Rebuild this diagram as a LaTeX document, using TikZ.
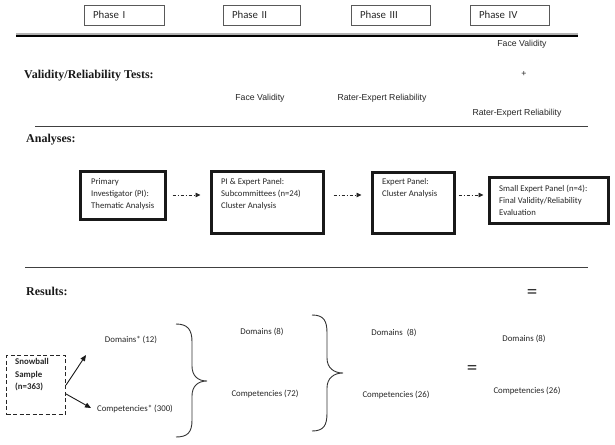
\documentclass[tikz,border=0pt]{standalone}
\usepackage{fontspec}
\setmainfont{Carlito}
\newfontfamily\arialf{Liberation Sans}
\newfontfamily\timesf{Liberation Serif}
\usetikzlibrary{arrows.meta}
\tikzset{
  phasebox/.style={draw=black!65, line width=0.9pt, minimum height=20pt, inner xsep=9pt, inner ysep=0pt, align=left, font=\fontsize{10.8}{12}\selectfont, text=black!85},
  abox/.style={draw=black!90, line width=3pt, inner sep=0pt},
  boxtext/.style={inner sep=0pt, align=left, anchor=north west, font=\fontsize{8.7}{12}\selectfont, text=black!85},
  arialtext/.style={inner sep=0pt, font=\arialf\fontsize{8.7}{10}\selectfont, text=black!85},
  restext/.style={inner sep=0pt, font=\fontsize{8.8}{10}\selectfont, text=black!85},
  sectitle/.style={inner sep=0pt, anchor=west, font=\timesf\bfseries\fontsize{12}{14}\selectfont, text=black!90},
  eqsign/.style={inner sep=0pt, font=\fontsize{21}{21}\selectfont, text=black!80},
  flowarrow/.style={draw=black!85, line width=0.8pt, dash pattern=on 3pt off 2pt on 1pt off 2pt, -{Triangle[length=5pt,width=4.5pt]}},
  sarrow/.style={draw=black!90, line width=0.9pt, -{Triangle[length=6pt,width=5pt]}},
  bracestyle/.style={draw=black!80, line width=0.9pt},
  rule/.style={draw=black!75, line width=0.9pt}
}
\begin{document}
\begin{tikzpicture}[x=1pt,y=-1pt]
\useasboundingbox (0,0) rectangle (615,444);

% Phase header
\node[phasebox, text width=62pt] (p1) at (124,15) {Phase I};
\node[phasebox, text width=59pt] (p2) at (261.5,15) {Phase II};
\node[phasebox, text width=61pt] (p3) at (390.5,15) {Phase III};
\node[phasebox, text width=61pt] (p4) at (509.5,15) {Phase IV};

% thick rule
\draw[gray!60, line width=2.4pt] (16,33.8) -- (578,33.8);
\draw[black, line width=2.3pt] (16,36.1) -- (578,36.1);

% Validity / reliability tests
\node[sectitle] (vt) at (24,76) {Validity/Reliability Tests:};
\node[arialtext] (fv4) at (522,44) {Face Validity};
\node[arialtext] (plus) at (524,74) {+};
\node[arialtext] (re4) at (517,113) {Rater-Expert Reliability};
\node[arialtext] (fv2) at (260,98) {Face Validity};
\node[arialtext] (re3) at (382,98) {Rater-Expert Reliability};

\draw[rule] (35,126) -- (588,126);

% Analyses
\node[sectitle] (an) at (26,140) {Analyses:};

\node[abox, minimum width=85pt, minimum height=48pt] (b1) at (122.5,195) {};
\node[boxtext] (t1) at (91,178.5) {Primary\\Investigator (PI):\\Thematic Analysis};
\node[abox, minimum width=112pt, minimum height=62pt] (b2) at (267,202) {};
\node[boxtext] (t2) at (221,178.5) {PI \& Expert Panel:\\Subcommittees (n=24)\\Cluster Analysis};
\node[abox, minimum width=82pt, minimum height=61pt] (b3) at (413,202.5) {};
\node[boxtext] (t3) at (382,178.5) {Expert Panel:\\Cluster Analysis};
\node[abox, minimum width=119pt, minimum height=46pt] (b4) at (548.5,200) {};
\node[boxtext] (t4) at (499,184.5) {Small Expert Panel (n=4):\\Final Validity/Reliability\\Evaluation};

\draw[flowarrow, shorten <=6pt, shorten >=9pt] (b1.east) -- (b1.east -| b2.west);
\draw[flowarrow, shorten <=9pt, shorten >=9pt] (b2.east |- b1.east) -- (b1.east -| b3.west);
\draw[flowarrow, shorten <=3pt, shorten >=4pt] (b3.east |- b1.east) -- (b1.east -| b4.west);

\draw[rule] (25,267) -- (588,267);

% Results
\node[sectitle] (rs) at (26,291) {Results:};
\node[eqsign] (eq1) at (532,294) {=};

\node[draw=black!85, line width=1.2pt, dash pattern=on 4pt off 2.5pt, minimum width=59pt, minimum height=59pt, inner sep=0pt] (sb) at (36,385) {};
\node[boxtext, font=\bfseries\fontsize{8.8}{12.5}\selectfont] (sbt) at (15,358.5) {Snowball\\Sample\\(n=363)};

\node[restext] (d12) at (131,340) {Domains* (12)};
\node[restext] (c300) at (135,409) {Competencies* (300)};
\coordinate (d12a) at (86,355);
\coordinate (c300a) at (91,408);
\draw[sarrow] (sb.east) -- (d12a);
\draw[sarrow] ([yshift=-9pt]sb.east) -- (c300a);

\draw[bracestyle] (176,324) .. controls (188,324) and (192,330) .. (192,342) -- (192,366) .. controls (192,376) and (198,381) .. (207,381) .. controls (198,381) and (192,386) .. (192,396) -- (192,420) .. controls (192,432) and (188,437) .. (176,437);

\node[restext] (d8a) at (262,332) {Domains (8)};
\node[restext] (c72) at (265,394) {Competencies (72)};

\draw[bracestyle] (312,315) .. controls (324,315) and (327,321) .. (327,333) -- (327,358) .. controls (327,368) and (334,373) .. (343,373) .. controls (334,373) and (327,378) .. (327,388) -- (327,413) .. controls (327,425) and (324,431) .. (312,431);

\node[restext] (d8b) at (394,333) {Domains\ \ (8)};
\node[restext] (c26a) at (396,395) {Competencies (26)};

\node[eqsign] (eq2) at (472,370) {=};

\node[restext] (d8c) at (524,339) {Domains (8)};
\node[restext] (c26b) at (527,391) {Competencies (26)};
\end{tikzpicture}
\end{document}
